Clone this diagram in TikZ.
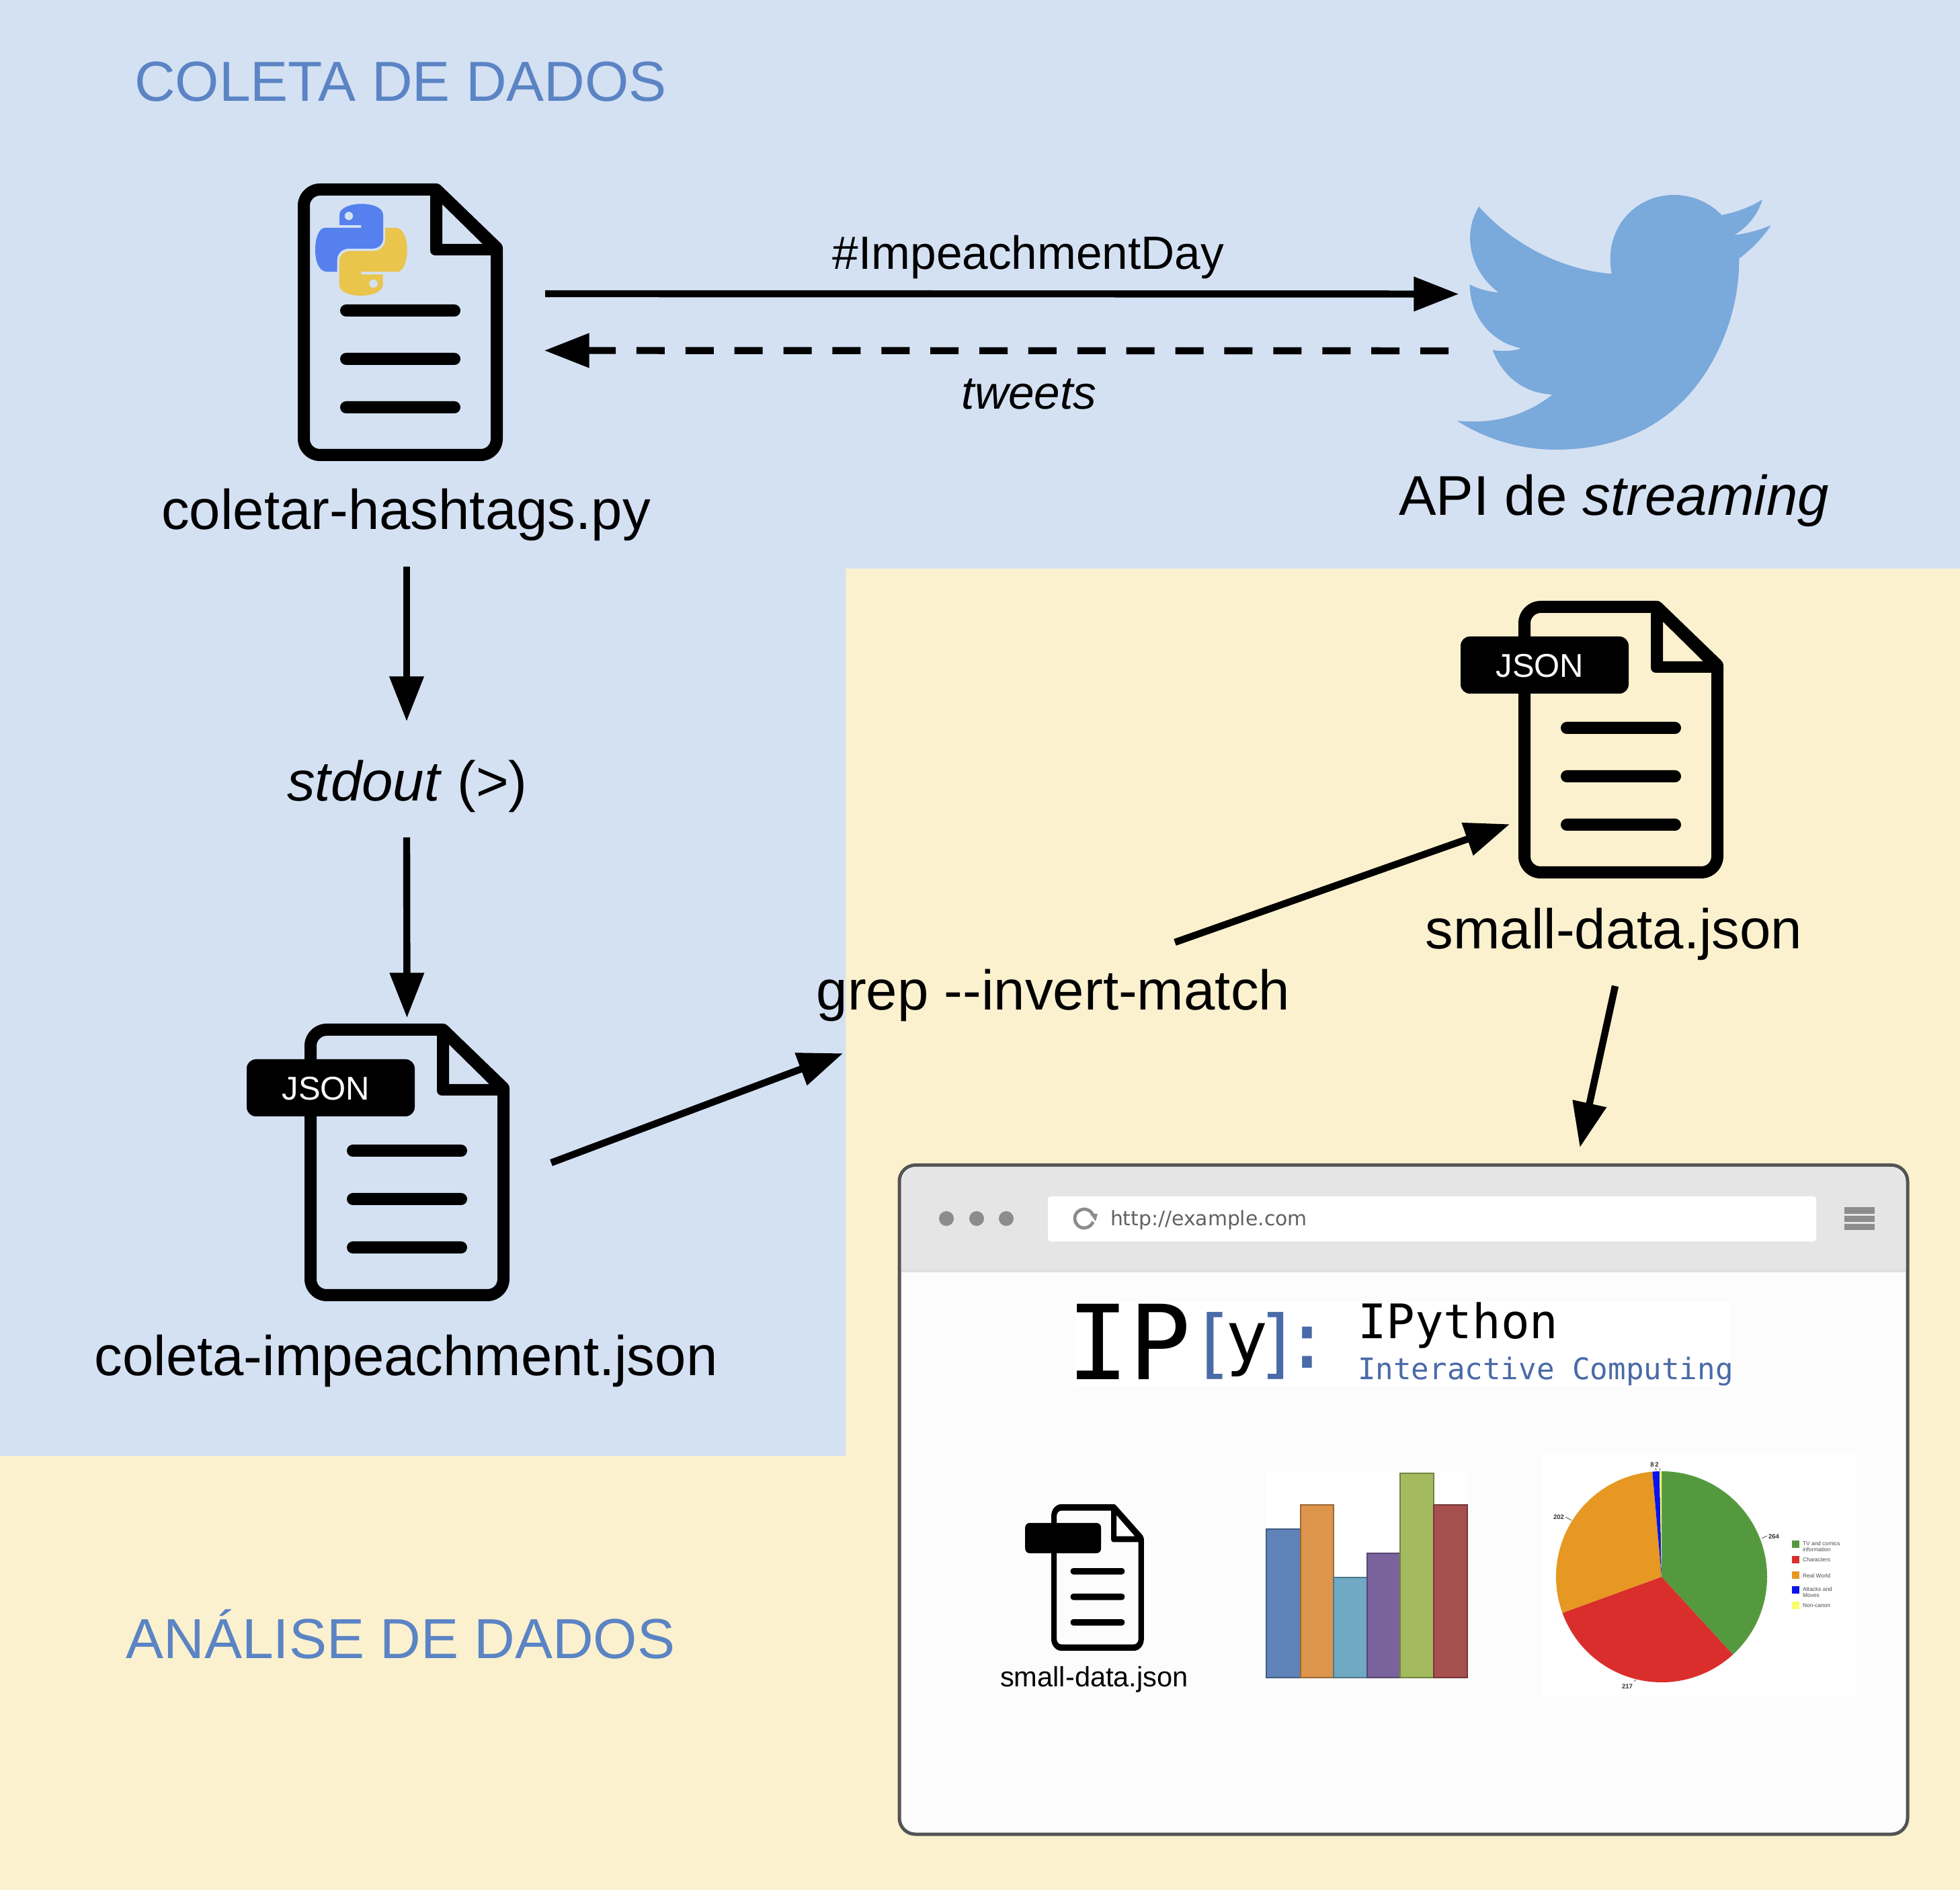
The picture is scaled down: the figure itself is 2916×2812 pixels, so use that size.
\documentclass[tikz,border=0pt]{standalone}
\usepackage{fontspec}
\usetikzlibrary{arrows.meta}
\setmainfont{Liberation Sans}
\newfontfamily\monofnt{DejaVu Sans Mono}
\newfontfamily\urlfnt{DejaVu Sans}
\definecolor{bgblue}{HTML}{D4E1F3}
\definecolor{bgyellow}{HTML}{FBF1CF}
\definecolor{headblue}{HTML}{5B84C4}
\definecolor{birdblue}{HTML}{7AA9DB}
\definecolor{pyblue}{HTML}{5580EE}
\definecolor{pyyellow}{HTML}{EAC54C}
\definecolor{ipblue}{HTML}{4A6AA8}
\definecolor{uigray}{HTML}{8C8C8C}
\tikzset{
  biglabel/.style={inner sep=0pt,outer sep=0pt,anchor=base,text height=15pt,text depth=4pt,font=\fontsize{20.85}{24}\selectfont},
  medlabel/.style={inner sep=0pt,outer sep=0pt,anchor=base,font=\fontsize{17.35}{20}\selectfont},
  heading/.style={inner sep=0pt,outer sep=0pt,anchor=base,text=headblue,font=\fontsize{21}{24}\selectfont},
  iconbox/.style={inner sep=0pt,outer sep=0pt,minimum width=#1},
  arr/.style={line width=2.6pt,shorten >=-.6pt,-{Triangle[length=16.75pt,width=12.25pt]}},
  dasharr/.style={arr,dash pattern=on 10.5pt off 7.72pt},
  tiny/.style={inner sep=0pt,outer sep=0pt,font=\fontsize{2.4}{2.6}\selectfont\bfseries,text=black!80},
  legendtext/.style={inner sep=0pt,outer sep=0pt,anchor=west,align=left,text=black!70,font=\fontsize{2.1}{2.25}\selectfont},
  logotext/.style={inner sep=0pt,outer sep=0pt,anchor=base},
  tickline/.style={line width=.25pt,black!60}
}
\newcommand\docbody{%
  \fill[black,even odd rule]
   (33,0) -- (205,0) .. controls (209,0) and (211,1) .. (214,4) -- (301,88) .. controls (304,91) and (305,93) .. (305,97)
   -- (305,380) .. controls (305,398) and (290,413) .. (272,413) -- (33,413) .. controls (15,413) and (0,398) .. (0,380)
   -- (0,33) .. controls (0,15) and (15,0) .. (33,0) -- cycle
   (33,18) -- (197,18) -- (197,99) .. controls (197,104) and (200,107) .. (205,107) -- (287,107) -- (287,380)
   .. controls (287,389) and (280,395) .. (272,395) -- (33,395) .. controls (25,395) and (18,389) .. (18,380)
   -- (18,33) .. controls (18,25) and (25,18) .. (33,18) -- cycle
   (215,31) -- (275,90) -- (215,90) -- cycle;
  \foreach \yy in {189,261,333}{
    \fill[black] (72,\yy-9) -- (233,\yy-9) .. controls (238,\yy-9) and (242,\yy-5) .. (242,\yy)
      .. controls (242,\yy+5) and (238,\yy+9) .. (233,\yy+9) -- (72,\yy+9)
      .. controls (67,\yy+9) and (63,\yy+5) .. (63,\yy) .. controls (63,\yy-5) and (67,\yy-9) .. (72,\yy-9) -- cycle;
  }}
\newcommand\doctag{%
  \fill[black] (-72,53) -- (150,53) .. controls (158,53) and (164,59) .. (164,67) -- (164,124)
    .. controls (164,132) and (158,138) .. (150,138) -- (-72,138) .. controls (-80,138) and (-86,132) .. (-86,124)
    -- (-86,67) .. controls (-86,59) and (-80,53) .. (-72,53) -- cycle;}
\begin{document}
\begin{tikzpicture}[x=.25pt,y=-.25pt]
\useasboundingbox (0,0) rectangle (2916,2812);
% backgrounds
\fill[bgyellow] (0,0) rectangle (2916,2812);
\fill[bgblue] (0,0) -- (2916,0) -- (2916,846) -- (1258,846) -- (1258,2166) -- (0,2166) -- cycle;
% headings
\node[heading] (headA) at (596,151) {COLETA DE DADOS};
\node[heading] (headB) at (596,2467) {ANÁLISE DE DADOS};
% python file icon
\node[iconbox=76.25pt,minimum height=103.25pt] (pyfile) at (595.5,479.5) {};
\begin{scope}[shift={(443,273)}]\docbody\end{scope}
\begin{scope}[shift={(380,240)},xscale=1/3,yscale=1/3]
  \fill[pyblue,even odd rule] (375,285) -- (375,240) .. controls (375,205) and (430,190) .. (472,190)
    .. controls (520,190) and (570,205) .. (570,240) -- (570,345) .. controls (570,372) and (548,390) .. (520,390)
    -- (415,390) .. controls (388,390) and (365,412) .. (365,440) -- (365,493) -- (320,493)
    .. controls (285,493) and (267,450) .. (267,395) .. controls (267,340) and (285,297) .. (310,297)
    -- (472,297) -- (472,285) -- cycle
    (417,244) circle[radius=19];
  \fill[pyyellow,even odd rule] (569,505) -- (569,550) .. controls (569,585) and (514,600) .. (472,600)
    .. controls (424,600) and (374,585) .. (374,550) -- (374,445) .. controls (374,418) and (396,400) .. (424,400)
    -- (529,400) .. controls (556,400) and (579,378) .. (579,350) -- (579,297) -- (624,297)
    .. controls (659,297) and (677,340) .. (677,395) .. controls (677,450) and (659,493) .. (634,493)
    -- (472,493) -- (472,505) -- cycle
    (527,546) circle[radius=19];
\end{scope}
\node[biglabel] (collabel) at (604,788) {coletar-hashtags.py};
% twitter bird
\node[iconbox=116.75pt,minimum height=94.75pt] (twitter) at (2401.5,479.5) {};
\begin{scope}[shift={(2100,250)},xscale=1/2.703,yscale=1/3]
  \fill[birdblue] (271,172) .. controls (400,335) and (600,455) .. (805,472)
   .. controls (770,270) and (900,120) .. (1055,120)
   .. controls (1130,120) and (1200,155) .. (1247,210)
   .. controls (1310,197) and (1365,172) .. (1411,141)
   .. controls (1392,210) and (1350,265) .. (1298,299)
   .. controls (1350,292) and (1400,277) .. (1446,255)
   .. controls (1410,315) and (1365,365) .. (1317,404)
   .. controls (1320,640) and (1230,880) .. (1100,1030)
   .. controls (960,1190) and (780,1257) .. (580,1257)
   .. controls (430,1257) and (290,1205) .. (183,1128)
   .. controls (330,1145) and (460,1105) .. (567,1011)
   .. controls (440,1005) and (360,915) .. (326,812)
   .. controls (365,820) and (405,818) .. (442,805)
   .. controls (310,775) and (234,650) .. (234,520)
   .. controls (270,540) and (310,553) .. (350,555)
   .. controls (240,465) and (200,300) .. (271,172) -- cycle;
\end{scope}
\node[biglabel] (apilabel) at (2401,767) {API de \textit{streaming}};
\node[medlabel] (hashlabel) at (1530,401) {\#ImpeachmentDay};
\node[medlabel] (tweetlabel) at (1531,609) {\textit{tweets}};
\node[biglabel] (stdoutlabel) at (606,1192) {\textit{stdout} (>)};
% JSON file A
\node[iconbox=76.25pt,minimum height=103.25pt] (jsonA) at (605.5,1729.5) {};
\begin{scope}[shift={(453,1523)}]\docbody\doctag\end{scope}
\node[inner sep=0pt,text=white,anchor=base,font=\fontsize{12.25}{14}\selectfont] (tagA) at (485,1637) {JSON};
\node[biglabel] (implabel) at (604,2046) {coleta-impeachment.json};
% JSON file B
\node[iconbox=76.25pt,minimum height=103.25pt] (jsonB) at (2411.5,1100.5) {};
\begin{scope}[shift={(2259,894)}]\docbody\doctag\end{scope}
\node[inner sep=0pt,text=white,anchor=base,font=\fontsize{12.25}{14}\selectfont] (tagB) at (2291,1008) {JSON};
\node[biglabel] (smalllabel) at (2401,1412) {small-data.json};
\node[biglabel] (greplabel) at (1567,1503) {grep -{}-invert-match};
% browser window
\node[draw=black!67,fill=black!1,line width=1.25pt,rounded corners=6pt,inner sep=0pt,outer sep=0pt,minimum width=375pt,minimum height=248.9pt] (browser) at (2088,2231.25) {};
\fill[black!10] (1341,1890) -- (1341,1762) .. controls (1341,1747) and (1350,1736) .. (1365,1736) -- (2811,1736) .. controls (2826,1736) and (2835,1747) .. (2835,1762) -- (2835,1890) -- cycle;
\fill[black!13] (1341,1889) rectangle (2835,1893);
\foreach \dx in {1408,1453,1497}{\fill[uigray] (\dx,1813) circle[radius=11];}
\fill[white,rounded corners=1pt] (1559,1780) rectangle (2702,1847);
\draw[uigray,line width=1.2pt] (1613,1813) ++(20:14) arc[start angle=20,end angle=340,radius=14];
\fill[uigray] (1622,1806) -- (1633,1806) -- (1630,1817) -- cycle;
\node[inner sep=0pt,outer sep=0pt,anchor=base west,text=black!62,font=\urlfnt\fontsize{7.45}{9}\selectfont] (urltext) at (1652,1824) {http://example.com};
\fill[uigray] (2744,1796) rectangle (2789,1806);
\fill[uigray] (2744,1809) rectangle (2789,1818);
\fill[uigray] (2744,1821) rectangle (2789,1830);
% IPython logo
\fill[white] (1600,1937) rectangle (2575,2062);
\node[logotext,anchor=base west,font=\monofnt\fontsize{38.5}{44}\selectfont] (logoip) at (1587,2052) {IP};
\node[logotext,text=ipblue,font=\monofnt\fontsize{28}{30}\selectfont] (logoa) at (1804,2037) {[};
\node[logotext,font=\monofnt\fontsize{26.25}{30}\selectfont] (logoy) at (1855,2027) {y};
\node[logotext,text=ipblue,font=\monofnt\fontsize{28}{30}\selectfont] (logob) at (1901,2037) {]};
\node[logotext,text=ipblue,font=\monofnt\fontsize{29.5}{32}\selectfont] (logoc) at (1945,2035) {:};
\node[logotext,anchor=base west,font=\monofnt\fontsize{17.7}{20}\selectfont] (logotitle) at (2020,1991) {IPython};
\node[logotext,anchor=base west,text=ipblue,font=\monofnt\fontsize{11.05}{13}\selectfont] (logosub) at (2020,2052) {Interactive Computing};
% small doc in browser
\begin{scope}[shift={(1564,2238)},xscale=.452,yscale=.528]\docbody\doctag\end{scope}
\node[inner sep=0pt,outer sep=0pt,anchor=base,font=\fontsize{10.4}{12}\selectfont] (smallfile) at (1628,2509) {small-data.json};
% bar chart
\fill[white] (1884,2190) rectangle (2183,2496);
\foreach \xa/\xb/\ytop/\col in {1884/1935/2275/5F82B8,1935/1984/2239/DD954C,1984/2034/2347/6FA9C4,2034/2083/2311/7A639D,2083/2133/2192/A3BA5E,2133/2183/2239/A64F4F}{
  \definecolor{barcol}{HTML}{\col}
  \draw[fill=barcol,draw=barcol!70!black,line width=.4pt] (\xa,2496) rectangle (\xb,\ytop);
}
% pie chart
\fill[white] (2294,2163) rectangle (2762,2523);
\definecolor{piegreen}{HTML}{55993F}
\definecolor{piered}{HTML}{DA2E2C}
\definecolor{pieorange}{HTML}{E69822}
\definecolor{pieblue}{HTML}{0A12EE}
\definecolor{pieyellow}{HTML}{F8FF66}
\fill[piegreen] (2472,2346) -- ++(-90:157) arc[start angle=-90,end angle=47.5,radius=157] -- cycle;
\fill[piered] (2472,2346) -- ++(47.5:157) arc[start angle=47.5,end angle=160,radius=157] -- cycle;
\fill[pieorange] (2472,2346) -- ++(160:157) arc[start angle=160,end angle=265,radius=157] -- cycle;
\fill[pieblue] (2472,2346) -- ++(265:157) arc[start angle=265,end angle=268.9,radius=157] -- cycle;
\fill[pieyellow] (2472,2346) -- ++(268.9:157) arc[start angle=268.9,end angle=270,radius=157] -- cycle;
\node[tiny] (p264) at (2639,2286) {264};
\node[tiny] (p217) at (2421,2509) {217};
\node[tiny] (p202) at (2319,2257) {202};
\node[tiny] (p8) at (2458,2179) {8};
\node[tiny] (p2) at (2465,2179) {2};
\draw[tickline] (2621,2289) -- (2629,2285);
\draw[tickline] (2431,2502) -- (2434,2499);
\draw[tickline] (2329,2257) -- (2338,2262);
\draw[tickline] (2463,2184) -- (2464,2188);
\draw[tickline] (2469,2184) -- (2469,2188);
\fill[piegreen] (2666,2292) rectangle (2677,2303);
\fill[piered] (2666,2315) rectangle (2677,2326);
\fill[pieorange] (2666,2338) rectangle (2677,2349);
\fill[pieblue] (2666,2360) rectangle (2677,2371);
\fill[pieyellow] (2666,2383) rectangle (2677,2394);
\node[legendtext,anchor=north west] (leg1) at (2682,2293.5) {TV and comics\\information};
\node[legendtext] (leg2) at (2682,2320) {Characters};
\node[legendtext] (leg3) at (2682,2344) {Real World};
\node[legendtext,anchor=north west] (leg4) at (2682,2361.5) {Attacks and\\Moves};
\node[legendtext] (leg5) at (2682,2389) {Non-canon};
% connectors
\draw[arr] ([shift={(63,-42.5)}]pyfile.east) -- ([shift={(0,-42)}]twitter.west);
\draw[dasharr] ([shift={(-13,42.5)}]twitter.west) -- ([shift={(64,42)}]pyfile.east);
\draw[arr] ([shift={(1,39)}]collabel.south) -- ([shift={(-1,-61)}]stdoutlabel.north);
\draw[arr] ([shift={(-1,38)}]stdoutlabel.south) -- ([shift={(0,-11)}]jsonA.north);
\draw[arr] ([shift={(62,.5)}]jsonA.east) -- ([shift={(-315,49)}]greplabel.south);
\draw[arr] ([shift={(181,-41)}]greplabel.north) -- ([shift={(-15,126.5)}]jsonB.west);
\draw[arr] ([shift={(2,39)}]smalllabel.south) -- ([shift={(263,-28.5)}]browser.north);
\end{tikzpicture}
\end{document}
